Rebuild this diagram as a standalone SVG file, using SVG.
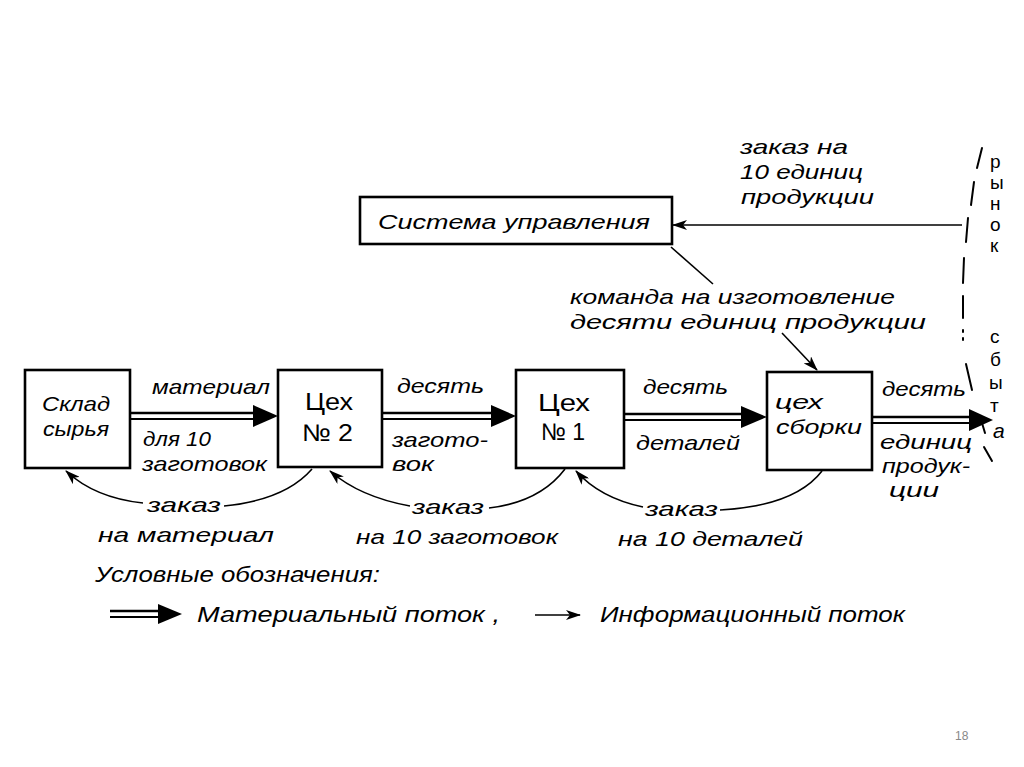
<svg xmlns="http://www.w3.org/2000/svg" width="1024" height="767" viewBox="0 0 1024 767">
<style>
.box{fill:#fff;stroke:#000;stroke-width:2.6}
.t{font-family:"Liberation Sans","DejaVu Sans",sans-serif;font-style:italic;font-size:21px;fill:#000}
.u{font-family:"Liberation Sans","DejaVu Sans",sans-serif;font-size:24px;fill:#000}
.v{font-family:"Liberation Sans","DejaVu Sans",sans-serif;font-size:19px;fill:#000}
.lg{font-family:"Liberation Sans","DejaVu Sans",sans-serif;font-style:italic;font-size:22px;fill:#000}
.info{fill:none;stroke:#000;stroke-width:1.6}
.m1{stroke:#000;stroke-width:2.6}
.m2{stroke:#000;stroke-width:1.8}
.head{fill:#000}
.dash{stroke:#000;stroke-width:2;fill:none;stroke-linecap:round}
</style>
<defs>
<marker id="ah" markerUnits="userSpaceOnUse" markerWidth="16" markerHeight="10" refX="14" refY="5" orient="auto">
<path d="M0,0 L15,5 L0,10 L4,5 z" fill="#000"/>
</marker>
</defs>
<rect width="1024" height="767" fill="#fff"/>

<g id="connectors">
<g id="mat1"><line class="m1" x1="130" y1="413" x2="258" y2="413"/><line class="m2" x1="130" y1="419" x2="258" y2="419"/><path class="head" d="M253,405 L278,416 L253,427 z"/></g>
<g id="mat2"><line class="m1" x1="382" y1="413" x2="495" y2="413"/><line class="m2" x1="382" y1="419" x2="495" y2="419"/><path class="head" d="M491,405 L516,416 L491,427 z"/></g>
<g id="mat3"><line class="m1" x1="624" y1="414" x2="746" y2="414"/><line class="m2" x1="624" y1="420" x2="746" y2="420"/><path class="head" d="M741,406 L767,417 L741,428 z"/></g>
<g id="mat4"><line class="m1" x1="872" y1="417" x2="974" y2="417"/><line class="m2" x1="872" y1="423" x2="974" y2="423"/><path class="head" d="M969,409 L993,420 L969,431 z"/></g>
<line class="info" x1="962" y1="225" x2="673" y2="225" marker-end="url(#ah)"/>
<line class="info" x1="671" y1="247" x2="713" y2="284"/>
<line class="info" x1="782" y1="333" x2="817" y2="370" marker-end="url(#ah)"/>
<path class="info" d="M312,469 Q285,500 224,506"/>
<path class="info" d="M143,503 Q95,498 66,471" marker-end="url(#ah)"/>
<path class="info" d="M565,469 Q540,502 489,508"/>
<path class="info" d="M410,506 Q360,497 330,471" marker-end="url(#ah)"/>
<path class="info" d="M822,471 Q795,506 720,510"/>
<path class="info" d="M643,507 Q600,498 576,471" marker-end="url(#ah)"/>
</g>

<g id="market-border">
<line class="dash" x1="982" y1="148" x2="977" y2="168"/>
<line class="dash" x1="974" y1="182" x2="971" y2="205"/>
<line class="dash" x1="968" y1="218" x2="966" y2="242"/>
<line class="dash" x1="964" y1="258" x2="963" y2="283"/>
<line class="dash" x1="963" y1="296" x2="963" y2="318"/>
<line class="dash" x1="963" y1="330" x2="963" y2="332"/>
<line class="dash" x1="963" y1="338" x2="963" y2="340"/>
<line class="dash" x1="966" y1="364" x2="972" y2="390"/>
<line class="dash" x1="982" y1="423" x2="985" y2="433"/>
<line class="dash" x1="984" y1="447" x2="992" y2="461"/>
</g>

<g id="sklad">
<rect class="box" x="25" y="370" width="105" height="98"/>
<text class="t" x="42" y="411" textLength="68" lengthAdjust="spacingAndGlyphs">Склад</text>
<text class="t" x="43" y="436" textLength="66" lengthAdjust="spacingAndGlyphs">сырья</text>
</g>
<g id="ceh2">
<rect class="box" x="278" y="370" width="104" height="97"/>
<text class="u" x="305" y="410" textLength="48" lengthAdjust="spacingAndGlyphs">Цех</text>
<text class="u" x="302" y="441" textLength="51" lengthAdjust="spacingAndGlyphs">№ 2</text>
</g>
<g id="ceh1">
<rect class="box" x="516" y="370" width="108" height="98"/>
<text class="u" x="538" y="411" textLength="52" lengthAdjust="spacingAndGlyphs">Цех</text>
<text class="u" x="541" y="440" textLength="44" lengthAdjust="spacingAndGlyphs">№ 1</text>
</g>
<g id="sborka">
<rect class="box" x="767" y="372" width="105" height="98"/>
<text class="t" x="775" y="409" textLength="48" lengthAdjust="spacingAndGlyphs">цех</text>
<text class="t" x="776" y="434" textLength="86" lengthAdjust="spacingAndGlyphs">сборки</text>
</g>
<g id="sistema">
<rect class="box" x="360" y="197" width="312" height="47"/>
<text class="t" x="378" y="229" textLength="272" lengthAdjust="spacingAndGlyphs">Система управления</text>
</g>

<g id="labels">
<text class="t" x="152" y="394" textLength="118" lengthAdjust="spacingAndGlyphs">материал</text>
<text class="t" x="143" y="446" textLength="68" lengthAdjust="spacingAndGlyphs">для 10</text>
<text class="t" x="142" y="471" textLength="125" lengthAdjust="spacingAndGlyphs">заготовок</text>
<text class="t" x="397" y="393" textLength="87" lengthAdjust="spacingAndGlyphs">десять</text>
<text class="t" x="392" y="447" textLength="96" lengthAdjust="spacingAndGlyphs">загото-</text>
<text class="t" x="392" y="471" textLength="42" lengthAdjust="spacingAndGlyphs">вок</text>
<text class="t" x="643" y="394" textLength="85" lengthAdjust="spacingAndGlyphs">десять</text>
<text class="t" x="636" y="450" textLength="104" lengthAdjust="spacingAndGlyphs">деталей</text>
<text class="t" x="882" y="396" textLength="84" lengthAdjust="spacingAndGlyphs">десять</text>
<text class="t" x="880" y="449" textLength="92" lengthAdjust="spacingAndGlyphs">единиц</text>
<text class="t" x="882" y="473" textLength="88" lengthAdjust="spacingAndGlyphs">продук-</text>
<text class="t" x="889" y="497" textLength="50" lengthAdjust="spacingAndGlyphs">ции</text>
<text class="t" x="147" y="512" textLength="74" lengthAdjust="spacingAndGlyphs">заказ</text>
<text class="t" x="98" y="542" textLength="176" lengthAdjust="spacingAndGlyphs">на материал</text>
<text class="t" x="412" y="514" textLength="72" lengthAdjust="spacingAndGlyphs">заказ</text>
<text class="t" x="356" y="544" textLength="202" lengthAdjust="spacingAndGlyphs">на 10 заготовок</text>
<text class="t" x="645" y="516" textLength="73" lengthAdjust="spacingAndGlyphs">заказ</text>
<text class="t" x="618" y="546" textLength="185" lengthAdjust="spacingAndGlyphs">на 10 деталей</text>
<text class="t" x="740" y="154" textLength="108" lengthAdjust="spacingAndGlyphs">заказ на</text>
<text class="t" x="740" y="179" textLength="123" lengthAdjust="spacingAndGlyphs">10 единиц</text>
<text class="t" x="741" y="204" textLength="133" lengthAdjust="spacingAndGlyphs">продукции</text>
<text class="t" x="570" y="304" textLength="325" lengthAdjust="spacingAndGlyphs">команда на изготовление</text>
<text class="t" x="570" y="329" textLength="356" lengthAdjust="spacingAndGlyphs">десяти единиц продукции</text>
<text class="v" x="990" y="168">р</text>
<text class="v" x="990" y="189">ы</text>
<text class="v" x="990" y="210">н</text>
<text class="v" x="990" y="231">о</text>
<text class="v" x="990" y="252">к</text>
<text class="v" x="990" y="343">с</text>
<text class="v" x="990" y="366">б</text>
<text class="v" x="989" y="389">ы</text>
<text class="v" x="990" y="412">т</text>
<text class="t" x="993" y="438" font-size="23">а</text>
</g>

<g id="legend">
<text class="lg" x="95" y="582" textLength="285" lengthAdjust="spacingAndGlyphs">Условные обозначения:</text>
<line class="m1" x1="110" y1="611" x2="162" y2="611"/><line class="m2" x1="110" y1="617" x2="162" y2="617"/><path class="head" d="M158,604 L182,614 L158,624 z"/>
<text class="lg" x="197" y="622" textLength="303" lengthAdjust="spacingAndGlyphs">Материальный поток ,</text>
<line class="info" x1="535" y1="615" x2="580" y2="615" marker-end="url(#ah)"/>
<text class="lg" x="600" y="622" textLength="305" lengthAdjust="spacingAndGlyphs">Информационный поток</text>
</g>
<text x="955" y="740" font-family="Liberation Sans, sans-serif" font-size="12" fill="#888">18</text>
</svg>
